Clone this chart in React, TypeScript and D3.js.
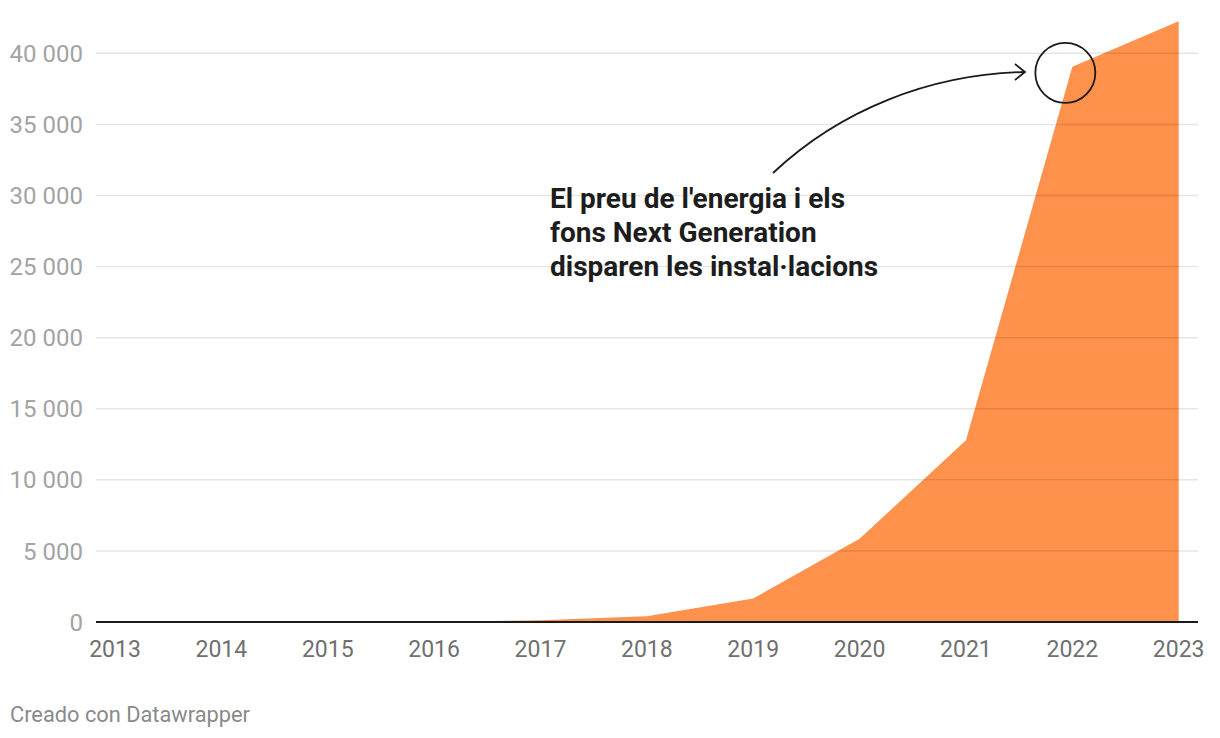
import React from "react";
import * as d3 from "d3";

const years = [2013, 2014, 2015, 2016, 2017, 2018, 2019, 2020, 2021, 2022, 2023];
const installs = [0, 0, 0, 10, 120, 400, 1650, 5850, 12780, 39050, 42250];
const yTicks = [0, 5000, 10000, 15000, 20000, 25000, 30000, 35000, 40000];
const annotationLines = ["El preu de l'energia i els", "fons Next Generation", "disparen les instal·lacions"];
const credit = "Creado con Datawrapper";

const W = 1220;
const H = 738;
const FONT = "Roboto, 'Noto Sans', sans-serif";

export default function App() {
  const x = d3.scaleLinear().domain([2013, 2023]).range([115, 1178.7]);
  const y = d3.scaleLinear().domain([0, 40000]).range([622, 53.3]);
  const data = years.map((yr, i) => ({ yr, v: installs[i] }));
  const area = d3
    .area<{ yr: number; v: number }>()
    .x((d) => x(d.yr))
    .y0(y(0))
    .y1((d) => y(d.v));
  const fmtSp = (v: number) => d3.format(",")(v).replace(/,/g, " ");

  const circleCx = x(2022) - 7;
  const circleCy = y(39050) + 6;

  return (
    <svg width={W} height={H} style={{ position: "absolute", left: 0, top: 0, background: "#fff" }}>
      <path d={area(data) || ""} fill="#fe914b" />
      {yTicks.map((t) =>
        t === 0 ? null : (
          <line key={t} x1={96} x2={1198} y1={y(t)} y2={y(t)} stroke="#000" strokeOpacity={0.1} strokeWidth={1.5} />
        )
      )}
      <line x1={96} x2={1198} y1={y(0)} y2={y(0)} stroke="#1a1a1a" strokeWidth={2} />
      {yTicks.map((t) => (
        <text key={t} x={83} y={y(t)} dy="0.36em" textAnchor="end" fontFamily={FONT} fontSize={24} fill="#a3a3a3">
          {fmtSp(t)}
        </text>
      ))}
      {years.map((yr) => (
        <text key={yr} x={x(yr)} y={657} textAnchor="middle" fontFamily={FONT} fontSize={23} fill="#707070">
          {yr}
        </text>
      ))}
      <circle cx={circleCx} cy={circleCy} r={30} fill="none" stroke="#1a1a1a" strokeWidth={1.8} />
      <path d="M773,173 C840,110 930,74 1025,72" fill="none" stroke="#1a1a1a" strokeWidth={1.8} />
      <path d="M1015,64 L1025,72 L1015,80" fill="none" stroke="#1a1a1a" strokeWidth={1.8} />
      {annotationLines.map((l, i) => (
        <text key={i} x={550} y={208 + i * 34} fontFamily={FONT} fontWeight={700} fontSize={28} fill="#1d1d1d">
          {l}
        </text>
      ))}
      <text x={10} y={722} fontFamily={FONT} fontSize={21.8} fill="#8a8a8a">
        {credit}
      </text>
    </svg>
  );
}
